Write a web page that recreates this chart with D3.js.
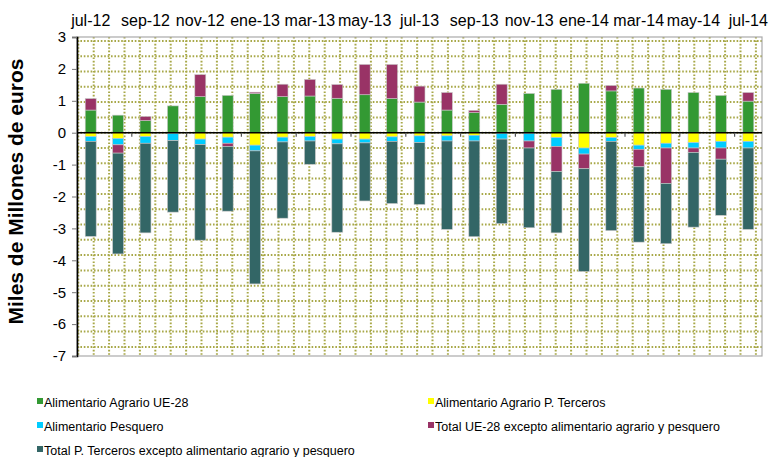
<!DOCTYPE html>
<html>
<head>
<meta charset="utf-8">
<script src="https://cdn.jsdelivr.net/npm/d3@7"></script>
<style>
body{margin:0;background:#fff;}
text{font-family:"Liberation Sans",Arial,sans-serif;}
</style>
</head>
<body>
<div id="chart"></div>
<script>
//months shown on the category axis (labels only every other one)
var months = ["jul-12","ago-12","sep-12","oct-12","nov-12","dic-12","ene-13","feb-13",
              "mar-13","abr-13","may-13","jun-13","jul-13","ago-13","sep-13","oct-13",
              "nov-13","dic-13","ene-14","feb-14","mar-14","abr-14","may-14","jun-14","jul-14"];

//values in miles de millones de euros
var agrarioUE = [0.71,0.55,0.38,0.84,1.13,1.17,1.23,1.13,1.15,1.08,1.19,1.07,0.96,
                 0.71,0.63,0.89,1.23,1.36,1.55,1.31,1.40,1.36,1.26,1.17,0.99];
var agrarioPT = [-0.12,-0.18,-0.12,-0.02,-0.20,-0.14,-0.39,-0.14,-0.12,-0.20,-0.20,-0.13,-0.10,
                 -0.10,-0.08,-0.02,-0.02,-0.15,-0.48,-0.15,-0.39,-0.33,-0.31,-0.27,-0.27];
var pesquero  = [-0.15,-0.20,-0.21,-0.23,-0.17,-0.19,-0.18,-0.15,-0.14,-0.15,-0.12,-0.14,-0.21,
                 -0.16,-0.18,-0.18,-0.24,-0.28,-0.19,-0.12,-0.13,-0.15,-0.17,-0.21,-0.21];
var restoUE   = [0.36,-0.26,0.13,0,0.69,-0.10,0.04,0.39,0.52,0.43,0.95,1.07,0.50,
                 0.55,0.07,0.63,-0.22,-0.79,-0.46,0.17,-0.55,-1.11,-0.14,-0.35,0.27];
var restoPT   = [-2.98,-3.16,-2.81,-2.24,-3.00,-2.03,-4.17,-2.39,-0.73,-2.77,-1.82,-1.95,-1.94,
                 -2.77,-3.00,-2.65,-2.50,-1.92,-3.22,-2.80,-2.36,-1.89,-2.34,-1.76,-2.55];

var seriesKeys = ["agrarioUE","agrarioPT","pesquero","restoUE","restoPT"];
var seriesNames = ["Alimentario Agrario UE-28",
                   "Alimentario Agrario P. Terceros",
                   "Alimentario Pesquero",
                   "Total UE-28 excepto alimentario agrario y pesquero",
                   "Total P. Terceros excepto alimentario agrario y pesquero"];
var seriesColors = ["#339933","#ffff00","#00ccff","#993366","#336666"];

var yTicks = [3,2,1,0,-1,-2,-3,-4,-5,-6,-7];

var drawChart = function() {
    //the size of the screen
    var screen = {width:769, height:457};
    //space around the plot area
    var margins = {top:37, bottom:101, left:77, right:7};
    var graph = {
        width:screen.width-margins.left-margins.right,
        height:screen.height-margins.top-margins.bottom
    };

    var svg = d3.select("#chart")
        .append("svg")
        .attr("width",screen.width)
        .attr("height",screen.height);

    var g = svg.append("g")
        .attr("transform","translate("+margins.left+","+margins.top+")");

    //build the table for the stack
    var table = months.map(function(m, i) {
        return {month:m, agrarioUE:agrarioUE[i], agrarioPT:agrarioPT[i],
                pesquero:pesquero[i], restoUE:restoUE[i], restoPT:restoPT[i]};
    });

    var stacked = d3.stack()
        .keys(seriesKeys)
        .offset(d3.stackOffsetDiverging)(table);

    var xScale = d3.scaleBand()
        .domain(months)
        .range([0,graph.width])
        .paddingInner(0.6)
        .paddingOuter(0.3);

    var yScale = d3.scaleLinear()
        .domain([-7,3])
        .range([graph.height,0]);

    //dotted background grid
    var gridStep = 15.3;
    var hLines = d3.range(yScale(0)%gridStep, graph.height, gridStep);
    var vLines = d3.range(1.3, graph.width-4, 15.4);
    var grid = g.append("g").attr("class","grid");
    grid.selectAll("line.h")
        .data(hLines)
        .enter()
        .append("line")
        .attr("x1",0).attr("x2",graph.width)
        .attr("y1",function(d){return d;})
        .attr("y2",function(d){return d;});
    grid.selectAll("line.v")
        .data(vLines)
        .enter()
        .append("line")
        .attr("x1",function(d){return d;})
        .attr("x2",function(d){return d;})
        .attr("y1",0).attr("y2",graph.height);
    grid.selectAll("line")
        .attr("stroke","#a8a848")
        .attr("stroke-width",2)
        .attr("stroke-dasharray","1.6,1.8");

    //plot border
    g.append("rect")
        .attr("x",0).attr("y",0)
        .attr("width",graph.width)
        .attr("height",graph.height)
        .attr("fill","none")
        .attr("stroke","#aaaaaa")
        .attr("stroke-width",1.2);

    //the stacked bars
    var layers = g.selectAll("g.layer")
        .data(stacked)
        .enter()
        .append("g")
        .attr("class","layer")
        .attr("fill",function(d,i){return seriesColors[i];});

    layers.selectAll("rect")
        .data(function(d){return d;})
        .enter()
        .append("rect")
        .attr("x",function(d){return xScale(d.data.month);})
        .attr("width",xScale.bandwidth())
        .attr("y",function(d){return yScale(Math.max(d[0],d[1]));})
        .attr("height",function(d){return Math.abs(yScale(d[0])-yScale(d[1]));})
        .attr("stroke","#c8c8c8")
        .attr("stroke-width",0.6);

    //zero line with ticks every two months
    g.append("line")
        .attr("x1",0).attr("x2",graph.width)
        .attr("y1",yScale(0)).attr("y2",yScale(0))
        .attr("stroke","#000")
        .attr("stroke-width",1.5);

    var gap = xScale.step()-xScale.bandwidth();
    var boundaries = months.filter(function(m,i){return i>0 && i%2==0;});
    g.selectAll("line.xtick")
        .data(boundaries)
        .enter()
        .append("line")
        .attr("x1",function(m){return xScale(m)-gap/2;})
        .attr("x2",function(m){return xScale(m)-gap/2;})
        .attr("y1",yScale(0))
        .attr("y2",yScale(0)+4)
        .attr("stroke","#555")
        .attr("stroke-width",1.2);

    //month labels on top
    g.selectAll("text.month")
        .data(months.filter(function(m,i){return i%2==0;}))
        .enter()
        .append("text")
        .attr("x",function(m){return xScale(m)+xScale.bandwidth()/2;})
        .attr("y",-11)
        .attr("text-anchor","middle")
        .attr("font-size",16)
        .attr("fill","#000")
        .text(function(m){return m;});

    //left axis
    var yAxis = d3.axisLeft(yScale)
        .tickValues(yTicks)
        .tickSize(5)
        .tickPadding(6)
        .tickFormat(function(d){return String(d);});
    var ax = g.append("g").call(yAxis);
    ax.select(".domain").attr("stroke","#000").attr("stroke-width",1.6);
    ax.selectAll(".tick line").attr("stroke","#777");
    ax.selectAll(".tick text")
        .attr("font-size",15)
        .attr("font-family","Liberation Sans, Arial, sans-serif")
        .attr("fill","#000");

    //y title
    svg.append("text")
        .attr("transform","translate(23,"+(margins.top+graph.height/2-5)+") rotate(-90)")
        .attr("text-anchor","middle")
        .attr("font-size",21)
        .attr("font-weight","bold")
        .text("Miles de Millones de euros");

    //legend
    var legendPos = [{x:37,y:403},{x:428,y:403},{x:37,y:427},{x:428,y:427},{x:37,y:451}];
    var legend = svg.selectAll("g.legend")
        .data(seriesNames)
        .enter()
        .append("g")
        .attr("class","legend")
        .attr("transform",function(d,i){return "translate("+legendPos[i].x+","+legendPos[i].y+")";});
    legend.append("rect")
        .attr("x",0).attr("y",-5)
        .attr("width",6).attr("height",6)
        .attr("fill",function(d,i){return seriesColors[i];});
    legend.append("text")
        .attr("x",7)
        .attr("y",1)
        .attr("dy","0.2em")
        .attr("font-size",12.5)
        .attr("fill","#000")
        .text(function(d){return d;});
};

drawChart();
</script>
</body>
</html>
